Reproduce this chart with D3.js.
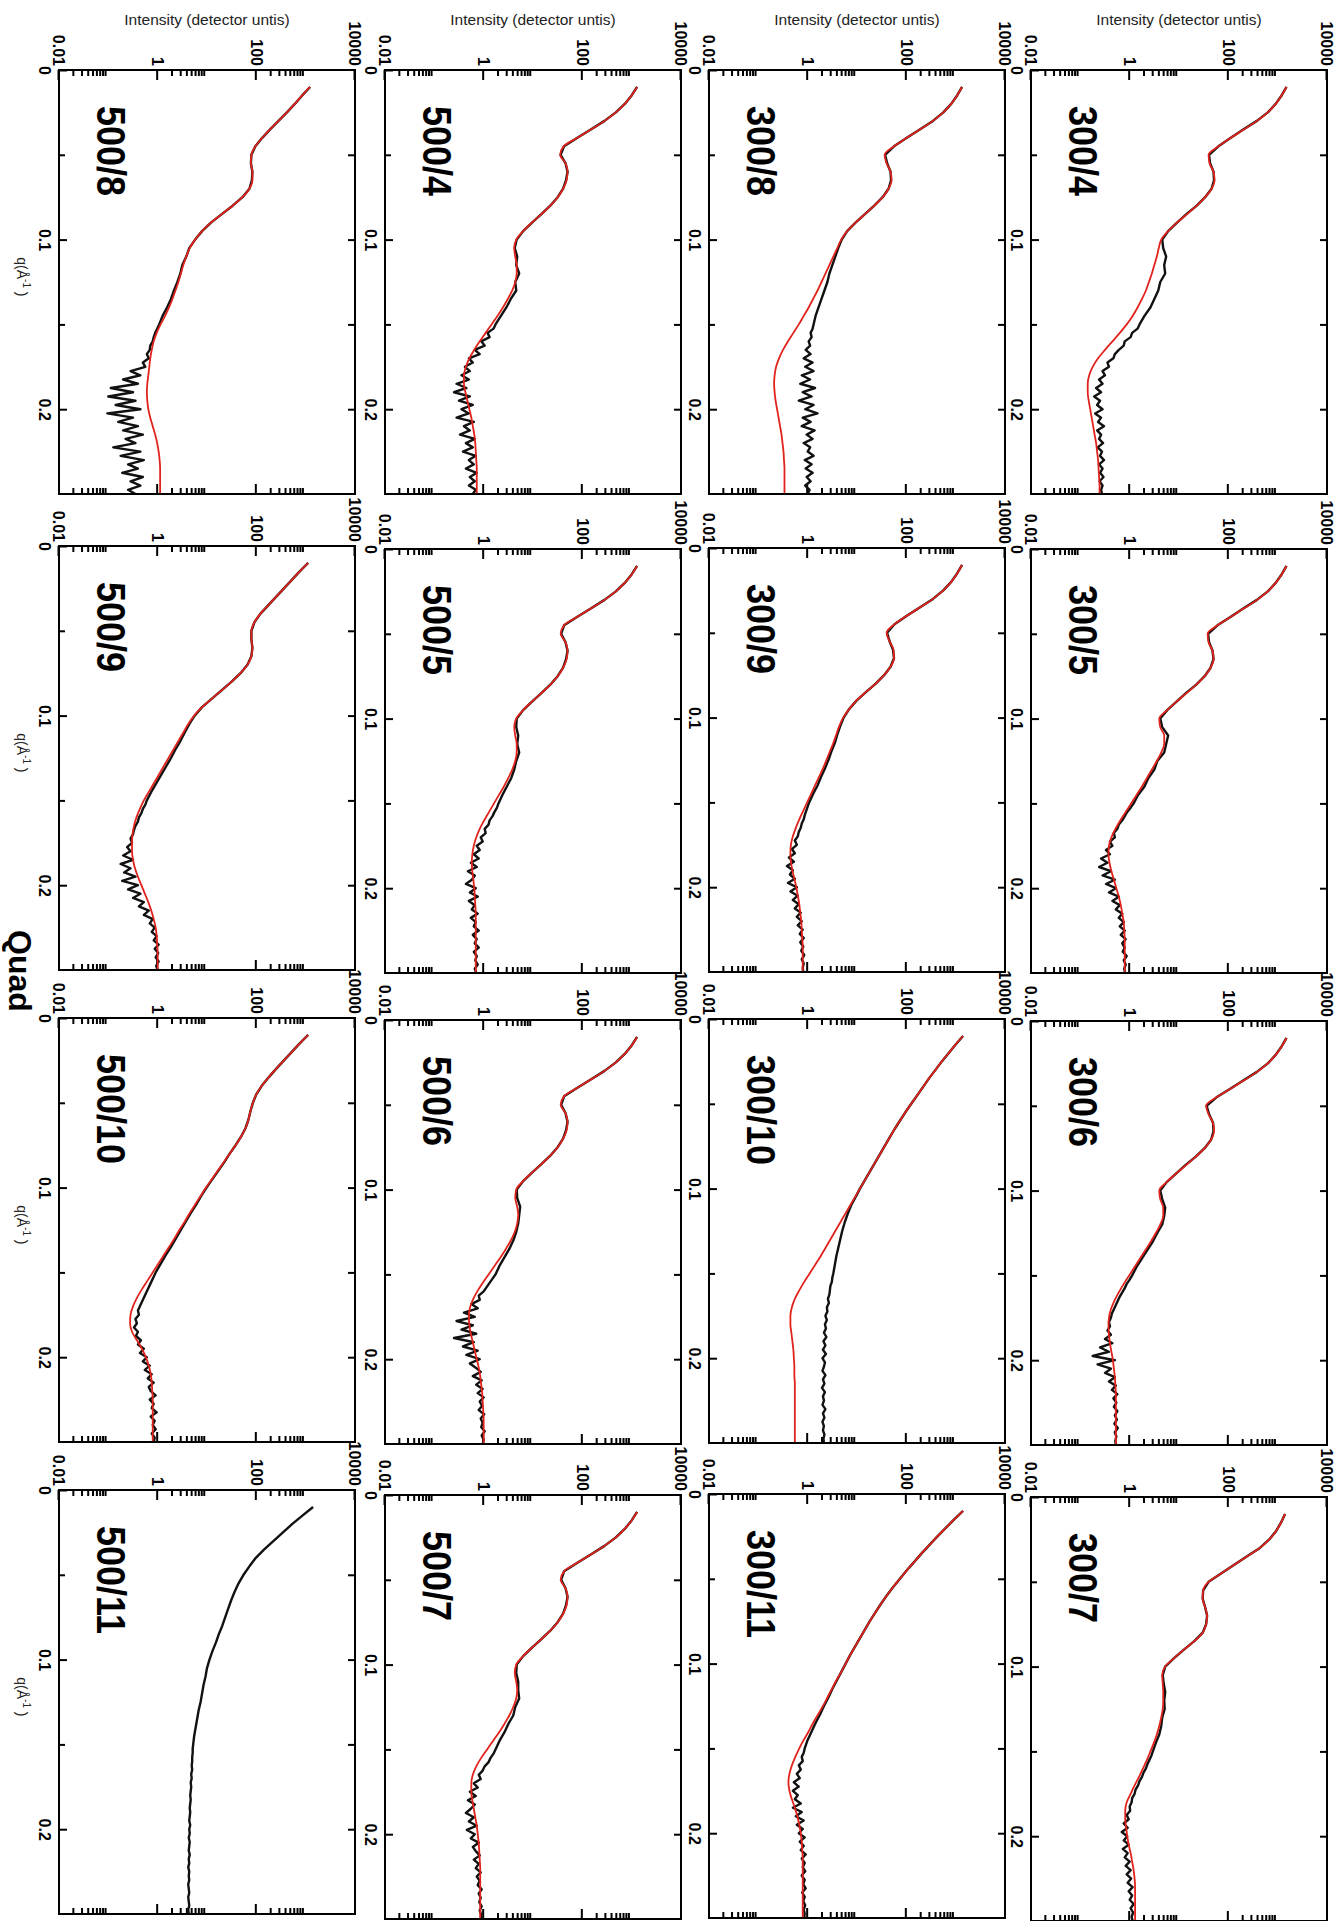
<!DOCTYPE html>
<html>
<head>
  <meta charset="UTF-8">
  <style>
    body { margin: 0; background: #fff; }
    svg { display: block; }
    text { font-family: "Liberation Sans", Arial, sans-serif; }
  </style>
</head>
<body>
<svg></svg>
<script src="https://d3js.org/d3.v7.min.js"></script>
<script>

let width = 1338, height = 1921;
let svg = d3.select("svg").attr("width", width).attr("height", height);

// q grid of the fitted curves and of the measured data (1/Angstrom)
const qFit = [0.010,0.015,0.020,0.025,0.030,0.035,0.040,0.045,0.050,0.055,0.060,0.065,0.070,0.075,0.080,0.085,0.090,0.095,0.100,0.105,0.110,0.115,0.120,0.125,0.130,0.135,0.140,0.145,0.150,0.155,0.160,0.165,0.170,0.175,0.180,0.185,0.190,0.195,0.200,0.205,0.210,0.215,0.220,0.225,0.230,0.235,0.240,0.245,0.250];
const qData = [0.010,0.015,0.020,0.025,0.030,0.035,0.040,0.045,0.050,0.055,0.060,0.065,0.070,0.075,0.080,0.085,0.090,0.095,0.100,0.105,0.110,0.115,0.120,0.125,0.130,0.135,0.140,0.145,
  0.150,0.1525,0.155,0.1575,0.160,0.1625,0.165,0.1675,0.170,0.1725,0.175,0.1775,0.180,0.1825,0.185,0.1875,0.190,0.1925,0.195,0.1975,0.200,0.2025,0.205,0.2075,0.210,0.2125,0.215,0.2175,0.220,0.2225,0.225,0.2275,0.230,0.2325,0.235,0.2375,0.240,0.2425,0.245,0.2475,0.250];

// log10 of intensity (detector units)
const fit_300_4 = [3.18,3.08,2.96,2.80,2.58,2.32,2.05,1.80,1.60,1.62,1.70,1.72,1.66,1.53,1.36,1.16,0.96,0.78,0.64,0.59,0.55,0.50,0.45,0.39,0.33,0.25,0.16,0.06,-0.06,-0.20,-0.35,-0.50,-0.64,-0.75,-0.82,-0.85,-0.85,-0.83,-0.80,-0.77,-0.74,-0.71,-0.68,-0.66,-0.64,-0.63,-0.62,-0.61,-0.61];
const data_300_4 = [3.18,3.08,2.96,2.80,2.58,2.31,2.05,1.80,1.61,1.63,1.70,1.71,1.66,1.53,1.36,1.15,0.96,0.78,0.66,0.68,0.74,0.70,0.72,0.62,0.58,0.50,0.42,0.30,
  0.20,0.16,0.05,0.02,-0.10,-0.12,-0.22,-0.30,-0.33,-0.45,-0.42,-0.55,-0.50,-0.62,-0.55,-0.68,-0.58,-0.72,-0.60,-0.66,-0.55,-0.70,-0.58,-0.64,-0.52,-0.66,-0.58,-0.62,-0.54,-0.65,-0.56,-0.60,-0.52,-0.62,-0.55,-0.60,-0.53,-0.61,-0.55,-0.58,-0.56];

const fit_300_5 = [3.18,3.08,2.96,2.80,2.58,2.32,2.05,1.78,1.58,1.60,1.68,1.70,1.64,1.52,1.35,1.15,0.95,0.76,0.60,0.62,0.70,0.70,0.64,0.55,0.45,0.35,0.25,0.14,0.03,-0.08,-0.19,-0.29,-0.37,-0.42,-0.43,-0.41,-0.37,-0.32,-0.27,-0.22,-0.18,-0.15,-0.12,-0.11,-0.10,-0.10,-0.10,-0.10,-0.10];
const data_300_5 = [3.18,3.08,2.96,2.80,2.58,2.31,2.05,1.78,1.59,1.61,1.68,1.70,1.64,1.52,1.35,1.14,0.95,0.76,0.62,0.66,0.78,0.74,0.70,0.56,0.50,0.38,0.30,0.17,
  0.08,0.02,-0.05,-0.10,-0.15,-0.22,-0.25,-0.32,-0.30,-0.40,-0.35,-0.48,-0.40,-0.58,-0.45,-0.62,-0.38,-0.55,-0.30,-0.48,-0.28,-0.42,-0.22,-0.35,-0.20,-0.28,-0.15,-0.22,-0.12,-0.20,-0.10,-0.18,-0.08,-0.15,-0.10,-0.14,-0.06,-0.12,-0.08,-0.11,-0.09];

const fit_300_6 = [3.18,3.08,2.96,2.80,2.58,2.32,2.04,1.76,1.55,1.60,1.69,1.71,1.65,1.52,1.34,1.14,0.94,0.75,0.60,0.62,0.68,0.68,0.62,0.53,0.43,0.32,0.21,0.10,-0.01,-0.12,-0.22,-0.31,-0.38,-0.42,-0.43,-0.42,-0.40,-0.37,-0.34,-0.32,-0.30,-0.29,-0.28,-0.28,-0.28,-0.28,-0.28,-0.28,-0.28];
const data_300_6 = [3.18,3.08,2.96,2.80,2.58,2.31,2.04,1.76,1.56,1.61,1.69,1.70,1.65,1.52,1.34,1.13,0.94,0.75,0.62,0.66,0.72,0.70,0.66,0.56,0.47,0.36,0.25,0.14,
  0.05,0.00,-0.06,-0.10,-0.15,-0.20,-0.24,-0.28,-0.32,-0.36,-0.38,-0.42,-0.40,-0.45,-0.38,-0.50,-0.35,-0.60,-0.42,-0.75,-0.30,-0.65,-0.38,-0.50,-0.30,-0.42,-0.28,-0.36,-0.25,-0.33,-0.27,-0.32,-0.25,-0.30,-0.26,-0.31,-0.24,-0.30,-0.27,-0.29,-0.28];

const fit_300_7 = [3.15,3.07,2.97,2.83,2.64,2.38,2.12,1.86,1.60,1.49,1.48,1.53,1.57,1.55,1.48,1.31,1.10,0.90,0.72,0.66,0.67,0.68,0.68,0.67,0.64,0.60,0.55,0.49,0.42,0.35,0.27,0.19,0.10,0.02,-0.06,-0.09,-0.09,-0.07,-0.05,-0.02,0.02,0.05,0.08,0.10,0.11,0.11,0.11,0.11,0.11];
const data_300_7 = [3.15,3.07,2.97,2.83,2.64,2.38,2.12,1.86,1.60,1.49,1.48,1.53,1.57,1.55,1.48,1.31,1.10,0.90,0.72,0.67,0.69,0.72,0.70,0.71,0.66,0.64,0.60,0.53,
  0.47,0.44,0.40,0.36,0.33,0.28,0.25,0.20,0.17,0.12,0.10,0.05,0.04,0.00,0.01,-0.06,-0.02,-0.12,-0.04,-0.16,-0.05,-0.12,-0.02,-0.14,-0.04,-0.10,0.00,-0.08,0.02,-0.06,0.03,-0.04,0.06,-0.02,0.05,0.00,0.08,0.02,0.07,0.04,0.06];

const fit_300_8 = [3.13,3.03,2.91,2.75,2.54,2.28,2.01,1.75,1.56,1.60,1.68,1.70,1.64,1.52,1.35,1.16,0.97,0.80,0.68,0.60,0.52,0.44,0.36,0.28,0.20,0.11,0.02,-0.08,-0.18,-0.29,-0.40,-0.50,-0.58,-0.64,-0.67,-0.68,-0.67,-0.65,-0.62,-0.59,-0.56,-0.53,-0.51,-0.49,-0.48,-0.47,-0.47,-0.47,-0.47];
const data_300_8 = [3.13,3.03,2.91,2.75,2.54,2.28,2.01,1.75,1.57,1.61,1.68,1.69,1.64,1.52,1.35,1.16,0.97,0.80,0.69,0.62,0.56,0.50,0.44,0.40,0.34,0.28,0.22,0.16,
  0.12,0.10,0.06,0.08,0.02,0.05,-0.04,0.06,-0.08,0.10,-0.05,0.12,-0.12,0.05,-0.15,0.15,-0.10,0.08,-0.18,0.12,-0.05,0.20,-0.10,0.06,-0.12,0.14,-0.02,0.10,-0.08,0.05,0.00,0.12,-0.06,0.08,-0.04,0.10,-0.02,0.06,-0.05,0.04,0.00];

const fit_300_9 = [3.13,3.03,2.91,2.75,2.54,2.28,2.01,1.76,1.60,1.66,1.74,1.75,1.68,1.55,1.38,1.18,0.99,0.84,0.72,0.64,0.58,0.52,0.45,0.38,0.31,0.23,0.15,0.07,-0.01,-0.09,-0.17,-0.24,-0.30,-0.34,-0.35,-0.34,-0.31,-0.27,-0.23,-0.20,-0.17,-0.15,-0.13,-0.12,-0.11,-0.10,-0.10,-0.10,-0.10];
const data_300_9 = [3.13,3.03,2.91,2.75,2.54,2.28,2.01,1.76,1.61,1.66,1.73,1.75,1.68,1.55,1.38,1.18,0.99,0.84,0.73,0.66,0.60,0.55,0.48,0.42,0.35,0.27,0.20,0.11,
  0.03,0.00,-0.03,-0.06,-0.08,-0.12,-0.14,-0.18,-0.20,-0.26,-0.22,-0.32,-0.26,-0.38,-0.28,-0.42,-0.30,-0.36,-0.26,-0.40,-0.22,-0.35,-0.20,-0.30,-0.18,-0.26,-0.14,-0.22,-0.12,-0.20,-0.10,-0.16,-0.08,-0.15,-0.09,-0.13,-0.07,-0.12,-0.08,-0.10,-0.09];

const fit_300_10 = [3.15,3.00,2.86,2.72,2.59,2.46,2.34,2.22,2.10,1.98,1.87,1.76,1.66,1.56,1.46,1.36,1.26,1.16,1.06,0.96,0.86,0.76,0.66,0.56,0.46,0.36,0.26,0.15,0.04,-0.07,-0.17,-0.26,-0.32,-0.35,-0.35,-0.33,-0.31,-0.29,-0.28,-0.27,-0.27,-0.26,-0.26,-0.26,-0.26,-0.26,-0.26,-0.26,-0.26];
const data_300_10 = [3.15,3.00,2.86,2.72,2.59,2.46,2.34,2.22,2.10,1.98,1.87,1.76,1.66,1.56,1.46,1.36,1.26,1.16,1.06,0.97,0.88,0.81,0.75,0.70,0.66,0.62,0.58,0.55,
  0.52,0.50,0.49,0.46,0.45,0.44,0.41,0.43,0.39,0.40,0.36,0.39,0.35,0.37,0.33,0.38,0.32,0.36,0.31,0.37,0.30,0.35,0.33,0.30,0.36,0.31,0.34,0.29,0.35,0.31,0.33,0.30,0.36,0.31,0.34,0.30,0.33,0.31,0.34,0.32,0.33];

const fit_300_11 = [3.15,2.97,2.80,2.63,2.47,2.31,2.16,2.01,1.87,1.73,1.60,1.48,1.37,1.26,1.16,1.06,0.96,0.86,0.77,0.68,0.58,0.49,0.40,0.31,0.21,0.11,0.02,-0.08,-0.17,-0.25,-0.32,-0.37,-0.39,-0.37,-0.32,-0.26,-0.21,-0.17,-0.14,-0.12,-0.11,-0.10,-0.10,-0.10,-0.10,-0.10,-0.10,-0.10,-0.10];
const data_300_11 = [3.15,2.97,2.80,2.63,2.47,2.31,2.16,2.01,1.87,1.73,1.60,1.48,1.37,1.26,1.16,1.06,0.96,0.86,0.77,0.68,0.59,0.50,0.42,0.33,0.25,0.16,0.08,0.00,
  -0.06,-0.08,-0.12,-0.10,-0.18,-0.14,-0.22,-0.16,-0.28,-0.18,-0.30,-0.20,-0.26,-0.14,-0.30,-0.12,-0.24,-0.08,-0.22,-0.10,-0.18,-0.06,-0.16,-0.08,-0.14,-0.04,-0.12,-0.06,-0.10,-0.05,-0.12,-0.06,-0.09,-0.04,-0.11,-0.06,-0.09,-0.05,-0.08,-0.06,-0.07];

const fit_500_4 = [3.11,3.00,2.86,2.68,2.45,2.18,1.90,1.62,1.55,1.66,1.70,1.68,1.61,1.50,1.35,1.17,0.98,0.80,0.66,0.62,0.64,0.67,0.67,0.64,0.58,0.49,0.39,0.28,0.16,0.04,-0.08,-0.19,-0.29,-0.36,-0.40,-0.40,-0.37,-0.33,-0.29,-0.25,-0.22,-0.19,-0.17,-0.16,-0.15,-0.14,-0.14,-0.14,-0.14];
const data_500_4 = [3.11,3.00,2.86,2.68,2.45,2.18,1.90,1.63,1.56,1.66,1.70,1.67,1.61,1.50,1.35,1.17,0.98,0.80,0.67,0.63,0.68,0.66,0.72,0.64,0.66,0.55,0.46,0.35,
  0.24,0.20,0.08,0.12,-0.05,0.02,-0.18,-0.08,-0.30,-0.22,-0.38,-0.28,-0.45,-0.30,-0.55,-0.35,-0.60,-0.28,-0.50,-0.22,-0.45,-0.30,-0.55,-0.20,-0.40,-0.28,-0.48,-0.18,-0.36,-0.22,-0.42,-0.16,-0.30,-0.20,-0.36,-0.14,-0.28,-0.18,-0.30,-0.16,-0.22];

const fit_500_5 = [3.11,3.00,2.86,2.68,2.45,2.18,1.90,1.63,1.56,1.66,1.70,1.68,1.61,1.50,1.35,1.17,0.98,0.80,0.66,0.62,0.64,0.67,0.67,0.64,0.58,0.50,0.41,0.31,0.21,0.11,0.01,-0.08,-0.15,-0.20,-0.23,-0.24,-0.23,-0.21,-0.19,-0.18,-0.17,-0.16,-0.16,-0.16,-0.16,-0.16,-0.16,-0.16,-0.16];
const data_500_5 = [3.11,3.00,2.86,2.68,2.45,2.18,1.90,1.63,1.57,1.66,1.70,1.67,1.61,1.50,1.35,1.17,0.98,0.80,0.67,0.66,0.70,0.68,0.72,0.66,0.62,0.56,0.47,0.38,
  0.30,0.27,0.22,0.18,0.12,0.10,0.02,0.04,-0.06,-0.02,-0.14,-0.08,-0.20,-0.10,-0.26,-0.14,-0.32,-0.18,-0.24,-0.36,-0.16,-0.28,-0.12,-0.30,-0.18,-0.24,-0.12,-0.26,-0.16,-0.20,-0.10,-0.22,-0.14,-0.18,-0.10,-0.20,-0.14,-0.17,-0.12,-0.18,-0.15];

const fit_500_6 = [3.11,3.00,2.86,2.68,2.45,2.18,1.90,1.63,1.56,1.66,1.70,1.68,1.61,1.50,1.35,1.17,0.98,0.80,0.66,0.64,0.68,0.70,0.68,0.63,0.55,0.45,0.34,0.22,0.10,-0.02,-0.13,-0.22,-0.28,-0.30,-0.29,-0.26,-0.22,-0.18,-0.14,-0.10,-0.07,-0.05,-0.03,-0.02,-0.01,0.00,0.00,0.00,0.00];
const data_500_6 = [3.11,3.00,2.86,2.68,2.45,2.18,1.90,1.63,1.57,1.66,1.70,1.67,1.61,1.50,1.35,1.17,0.98,0.80,0.67,0.68,0.74,0.72,0.70,0.66,0.60,0.52,0.42,0.32,
  0.24,0.18,0.12,0.06,0.00,-0.10,-0.08,-0.25,-0.12,-0.40,-0.18,-0.55,-0.22,-0.45,-0.15,-0.60,-0.20,-0.42,-0.12,-0.35,-0.08,-0.28,-0.16,-0.06,-0.22,-0.04,-0.15,-0.02,-0.12,0.00,-0.08,-0.03,-0.10,0.01,-0.06,-0.02,-0.05,0.02,-0.04,0.00,-0.02];

const fit_500_7 = [3.11,3.00,2.86,2.68,2.45,2.18,1.90,1.63,1.56,1.66,1.70,1.68,1.61,1.50,1.35,1.17,0.98,0.80,0.66,0.63,0.66,0.68,0.66,0.60,0.52,0.42,0.31,0.19,0.07,-0.05,-0.15,-0.22,-0.25,-0.25,-0.23,-0.20,-0.17,-0.14,-0.12,-0.10,-0.09,-0.08,-0.07,-0.07,-0.07,-0.07,-0.07,-0.07,-0.07];
const data_500_7 = [3.11,3.00,2.86,2.68,2.45,2.18,1.90,1.63,1.57,1.66,1.70,1.67,1.61,1.50,1.35,1.17,0.98,0.80,0.67,0.66,0.70,0.70,0.72,0.64,0.60,0.50,0.42,0.32,
  0.24,0.20,0.14,0.10,0.02,-0.02,-0.10,-0.06,-0.20,-0.12,-0.28,-0.16,-0.32,-0.18,-0.26,-0.36,-0.20,-0.30,-0.14,-0.34,-0.18,-0.26,-0.10,-0.22,-0.16,-0.08,-0.20,-0.10,-0.16,-0.06,-0.14,-0.08,-0.12,-0.04,-0.10,-0.06,-0.09,-0.04,-0.08,-0.05,-0.06];

const fit_500_8 = [3.09,2.93,2.78,2.62,2.45,2.28,2.12,1.98,1.90,1.89,1.92,1.92,1.86,1.72,1.52,1.30,1.08,0.90,0.76,0.65,0.58,0.52,0.47,0.42,0.36,0.30,0.23,0.15,0.06,-0.02,-0.08,-0.12,-0.15,-0.17,-0.19,-0.21,-0.22,-0.21,-0.19,-0.15,-0.10,-0.05,-0.01,0.02,0.04,0.05,0.05,0.05,0.05];
const data_500_8 = [3.09,2.93,2.78,2.62,2.45,2.28,2.12,1.98,1.90,1.89,1.92,1.91,1.86,1.72,1.52,1.30,1.08,0.90,0.76,0.64,0.58,0.50,0.46,0.40,0.33,0.27,0.19,0.10,
  0.03,-0.01,-0.05,-0.08,-0.10,-0.15,-0.16,-0.22,-0.18,-0.30,-0.25,-0.55,-0.35,-0.70,-0.40,-0.95,-0.50,-1.00,-0.45,-0.85,-0.35,-1.02,-0.50,-0.80,-0.40,-0.70,-0.30,-0.65,-0.45,-0.90,-0.35,-0.75,-0.28,-0.60,-0.40,-0.72,-0.30,-0.55,-0.35,-0.60,-0.45];

const fit_500_9 = [3.05,2.88,2.72,2.56,2.40,2.24,2.08,1.96,1.90,1.90,1.92,1.90,1.82,1.68,1.50,1.30,1.10,0.90,0.74,0.62,0.52,0.42,0.32,0.22,0.12,0.02,-0.08,-0.18,-0.28,-0.36,-0.43,-0.48,-0.51,-0.52,-0.52,-0.50,-0.46,-0.40,-0.33,-0.26,-0.19,-0.13,-0.08,-0.04,-0.02,-0.01,0.00,0.00,0.00];
const data_500_9 = [3.05,2.88,2.72,2.56,2.40,2.24,2.08,1.96,1.90,1.90,1.92,1.90,1.82,1.68,1.50,1.30,1.10,0.90,0.75,0.64,0.55,0.46,0.36,0.27,0.17,0.07,-0.03,-0.13,
  -0.22,-0.25,-0.30,-0.33,-0.38,-0.40,-0.45,-0.48,-0.50,-0.55,-0.52,-0.62,-0.55,-0.70,-0.50,-0.75,-0.55,-0.68,-0.45,-0.72,-0.40,-0.60,-0.35,-0.50,-0.28,-0.38,-0.18,-0.28,-0.10,-0.16,-0.06,-0.12,-0.02,-0.08,0.02,-0.06,0.01,-0.04,0.02,-0.03,0.00];

const fit_500_10 = [3.05,2.88,2.72,2.56,2.40,2.25,2.11,2.00,1.93,1.88,1.84,1.78,1.69,1.58,1.46,1.34,1.22,1.10,0.98,0.87,0.76,0.65,0.55,0.44,0.34,0.23,0.12,0.01,-0.10,-0.21,-0.32,-0.42,-0.50,-0.55,-0.56,-0.52,-0.42,-0.32,-0.24,-0.18,-0.14,-0.12,-0.11,-0.10,-0.10,-0.10,-0.10,-0.10,-0.10];
const data_500_10 = [3.05,2.88,2.72,2.56,2.40,2.25,2.11,2.00,1.93,1.88,1.84,1.78,1.69,1.58,1.46,1.35,1.23,1.11,0.99,0.88,0.78,0.67,0.57,0.47,0.37,0.27,0.16,0.06,
  -0.04,-0.08,-0.12,-0.16,-0.20,-0.24,-0.28,-0.32,-0.36,-0.40,-0.38,-0.45,-0.42,-0.48,-0.40,-0.44,-0.34,-0.40,-0.28,-0.36,-0.22,-0.30,-0.16,-0.26,-0.12,-0.20,-0.08,-0.18,-0.14,-0.04,-0.16,-0.08,-0.12,-0.02,-0.14,-0.06,-0.10,-0.04,-0.12,-0.06,-0.08];

const data_500_11 = [3.15,2.94,2.73,2.54,2.35,2.16,1.99,1.86,1.74,1.64,1.56,1.49,1.43,1.37,1.31,1.24,1.18,1.11,1.05,1.00,0.97,0.93,0.90,0.87,0.83,0.80,0.77,0.74,
  0.72,0.71,0.71,0.70,0.70,0.69,0.70,0.68,0.69,0.67,0.68,0.67,0.66,0.67,0.66,0.65,0.66,0.65,0.64,0.66,0.64,0.65,0.63,0.65,0.64,0.63,0.65,0.63,0.64,0.62,0.64,0.63,0.64,0.62,0.63,0.64,0.62,0.63,0.64,0.62,0.63];

// panel names, by column (left to right) then row (top to bottom)
const panelLabels = [
  ["500/8", "500/9", "500/10", "500/11"],
  ["500/4", "500/5", "500/6", "500/7"],
  ["300/8", "300/9", "300/10", "300/11"],
  ["300/4", "300/5", "300/6", "300/7"]
];
const fits = [
  [fit_500_8, fit_500_9, fit_500_10, null],
  [fit_500_4, fit_500_5, fit_500_6, fit_500_7],
  [fit_300_8, fit_300_9, fit_300_10, fit_300_11],
  [fit_300_4, fit_300_5, fit_300_6, fit_300_7]
];
const datas = [
  [data_500_8, data_500_9, data_500_10, data_500_11],
  [data_500_4, data_500_5, data_500_6, data_500_7],
  [data_300_8, data_300_9, data_300_10, data_300_11],
  [data_300_4, data_300_5, data_300_6, data_300_7]
];

// axis ticks
const iMajor = [0.01, 1, 100, 10000];
const iLabels = ["0.01", "1", "100", "10000"];
const iMinor = [0.02,0.03,0.04,0.05,0.06,0.07,0.08,0.09, 2,3,4,5,6,7,8,9, 200,300,400,500,600,700,800,900];
const qMajor = [0, 0.1, 0.2];
const qLabels = ["0", "0.1", "0.2"];
const qMinor = [0.05, 0.15];

// layout (the figure is the original plot turned a quarter turn clockwise)
const colLeft = [59, 385, 709, 1031];
const rowTop = [[70, 546, 1018, 1490], [70, 549, 1020, 1495], [70, 548, 1019, 1494], [70, 549, 1021, 1497]];
const panelW = 296;   // intensity extent (image x)
const panelH = 424;   // q extent (image y)

let qScale = d3.scaleLinear().domain([0, 0.25]).range([0, panelH]);
let iScale = d3.scaleLog().domain([0.01, 10000]).range([panelW, 0]);

let fitLine = d3.line()
  .x(d => qScale(d[0]))
  .y(d => iScale(Math.pow(10, d[1])))
  .curve(d3.curveMonotoneX);
let dataLine = d3.line()
  .x(d => qScale(d[0]))
  .y(d => iScale(Math.pow(10, d[1])));

function styleAxis(sel) {
  sel.select(".domain").remove();
  sel.selectAll(".tick line").attr("stroke", "#000").attr("stroke-width", 2);
  sel.attr("font-family", "'Liberation Sans', Arial, sans-serif")
     .attr("font-size", 16).attr("font-weight", "bold");
  sel.selectAll(".tick text").attr("fill", "#000");
}

for (let c = 0; c < 4; c++) {
  for (let r = 0; r < 4; r++) {
    let left = colLeft[c], top = rowTop[c][r];
    let g = svg.append("g").attr("transform", "translate(" + (left + panelW) + "," + top + ") rotate(90)");

    // intensity axis (shown along the top) and its mirror (bottom)
    g.append("g").call(d3.axisLeft(iScale).tickValues(iMajor).tickSize(-10).tickPadding(4)
        .tickFormat((d, i) => iLabels[i])).call(styleAxis);
    g.append("g").call(d3.axisLeft(iScale).tickValues(iMinor).tickSize(-6).tickFormat("")).call(styleAxis);
    g.append("g").attr("transform", "translate(" + panelH + ",0)")
      .call(d3.axisRight(iScale).tickValues(iMajor.slice(1, 3)).tickSize(-10).tickFormat("")).call(styleAxis);
    g.append("g").attr("transform", "translate(" + panelH + ",0)")
      .call(d3.axisRight(iScale).tickValues(iMinor).tickSize(-6).tickFormat("")).call(styleAxis);

    // q axis (shown along the left) and its mirror (right)
    g.append("g").attr("transform", "translate(0," + panelW + ")")
      .call(d3.axisBottom(qScale).tickValues(qMajor).tickSize(-8).tickPadding(9)
        .tickFormat((d, i) => qLabels[i])).call(styleAxis);
    g.append("g").attr("transform", "translate(0," + panelW + ")")
      .call(d3.axisBottom(qScale).tickValues(qMinor).tickSize(-6).tickFormat("")).call(styleAxis);
    g.append("g")
      .call(d3.axisTop(qScale).tickValues([0.05, 0.1, 0.15, 0.2]).tickSize(-7).tickFormat("")).call(styleAxis);

    // curves
    let dat = datas[c][r];
    g.append("path")
      .attr("d", dataLine(dat.map((v, i) => [qData[i], v])))
      .attr("fill", "none").attr("stroke", "#111").attr("stroke-width", 2.4)
      .attr("stroke-linejoin", "round");
    let fit = fits[c][r];
    if (fit) {
      g.append("path")
        .attr("d", fitLine(fit.map((v, i) => [qFit[i], v])))
        .attr("fill", "none").attr("stroke", "#e0231c").attr("stroke-width", 1.8);
    }

    // frame
    g.append("rect").attr("width", panelH).attr("height", panelW)
      .attr("fill", "none").attr("stroke", "#000").attr("stroke-width", 2);

    // panel name
    g.append("text")
      .attr("transform", "translate(36,258) scale(0.9,1)")
      .attr("font-size", 40).attr("font-weight", "bold").attr("fill", "#000")
      .text(panelLabels[c][r]);
  }
}

// column titles
colLeft.forEach(left => {
  svg.append("text")
    .attr("x", left + panelW / 2).attr("y", 25)
    .attr("text-anchor", "middle").attr("font-size", 15.5).attr("fill", "#222")
    .text("Intensity (detector untis)");
});

// q titles on the left column
rowTop[0].forEach(top => {
  let t = svg.append("text")
    .attr("transform", "translate(17," + (top + qScale(0.122)) + ") rotate(90)")
    .attr("text-anchor", "middle").attr("font-size", 14).attr("fill", "#222");
  t.append("tspan").text("q(Å");
  t.append("tspan").attr("dy", -6).attr("font-size", 10).text("-1");
  t.append("tspan").attr("dy", 6).text(" )");
});

svg.append("text")
  .attr("transform", "translate(9,930) rotate(90)")
  .attr("font-size", 32).attr("font-weight", "bold").attr("fill", "#000")
  .text("Quad");

</script>
</body>
</html>
